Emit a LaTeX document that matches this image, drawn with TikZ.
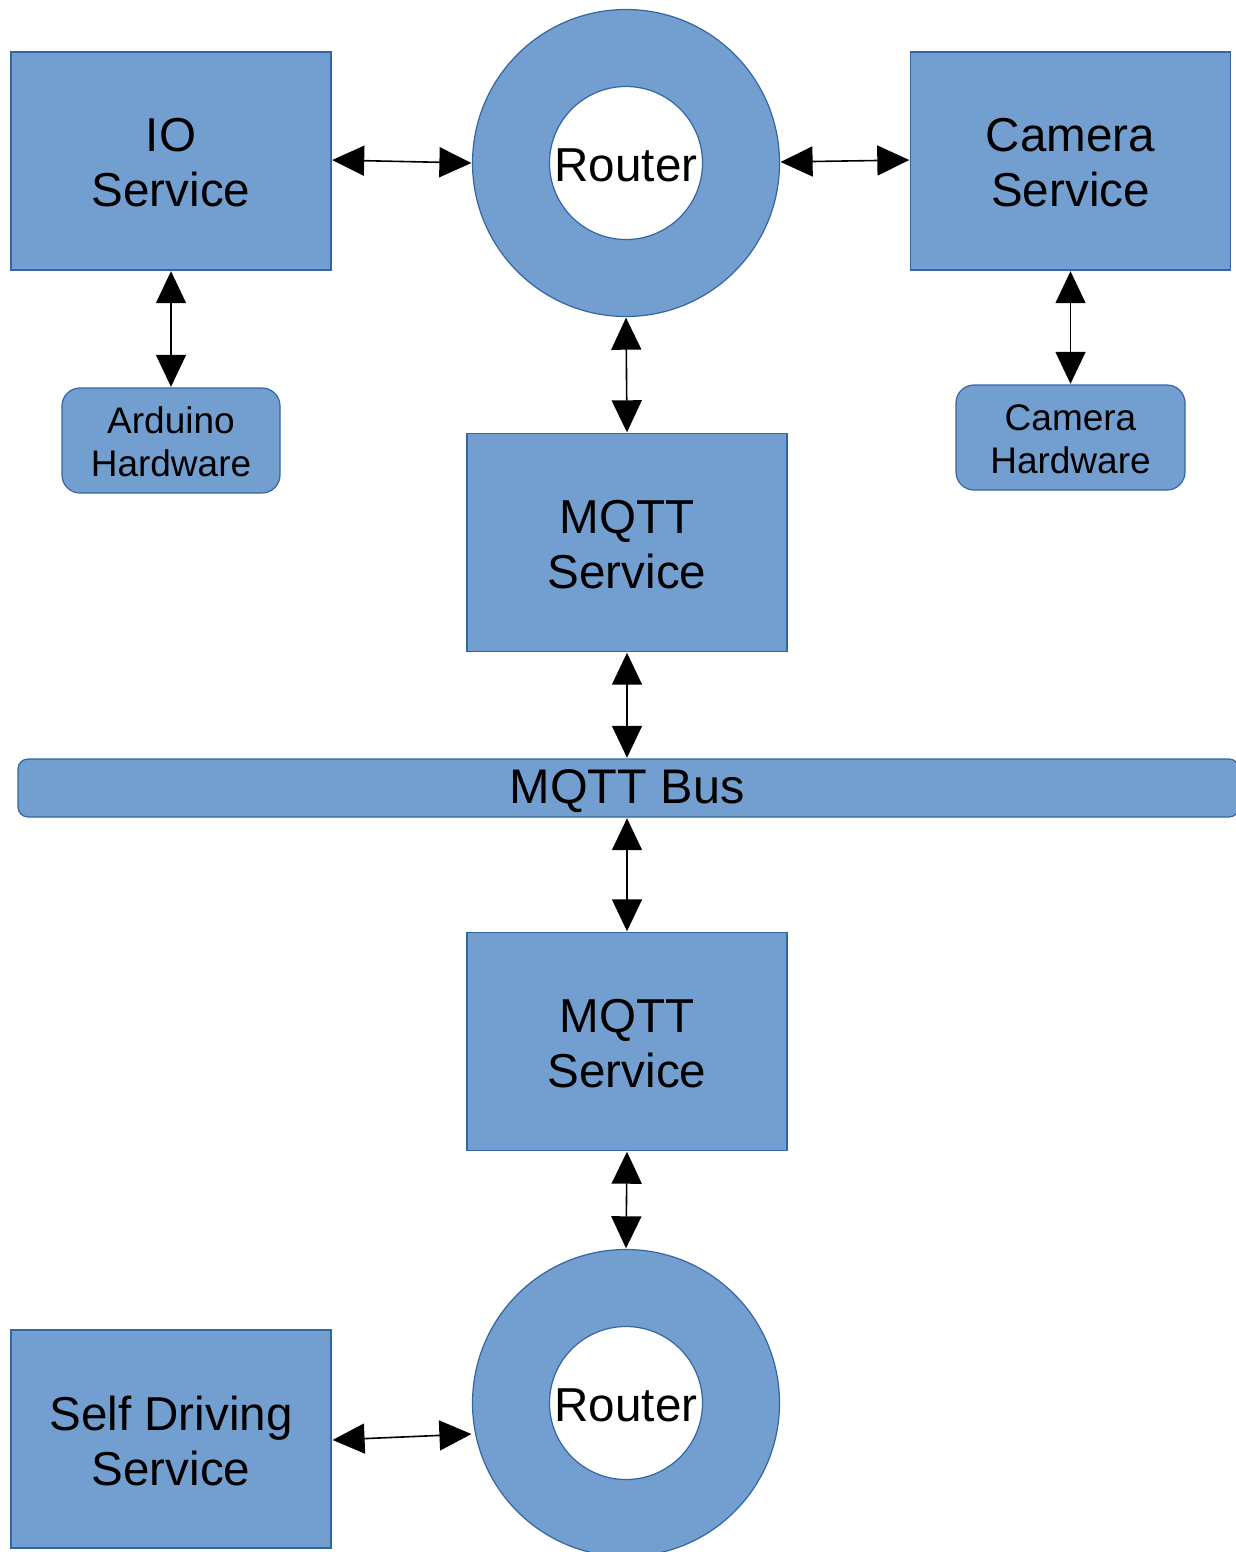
\documentclass[tikz,border=0pt]{standalone}
\usepackage{fontspec}
\setmainfont{Liberation Sans}
\usetikzlibrary{arrows.meta}
\definecolor{fillblue}{HTML}{729FCF}
\definecolor{edgeblue}{HTML}{3465A4}
\begin{document}
\begin{tikzpicture}[x=0.5pt,y=-0.5pt,
  box/.style={draw=edgeblue,fill=fillblue,line width=0.6pt,minimum width=160pt,minimum height=109pt,align=center,inner sep=0pt,font=\fontsize{23.8}{27.5}\selectfont},
  hw/.style={draw=edgeblue,fill=fillblue,line width=0.6pt,rounded corners=9pt,minimum height=52.5pt,align=center,inner sep=0pt,font=\fontsize{18.5}{21.5}\selectfont},
  ring/.style={circle,draw=edgeblue,fill=fillblue,line width=0.6pt,minimum size=153.5pt,inner sep=0pt},
  hole/.style={circle,draw=edgeblue,fill=white,line width=0.6pt,minimum size=76.5pt,inner sep=0pt},
  lbl/.style={align=center,inner sep=0pt,font=\fontsize{23.8}{27.5}\selectfont},
  link/.style={line width=0.8pt,{Triangle[length=16pt,width=15pt]}-{Triangle[length=16pt,width=15pt]},shorten <=0.3pt,shorten >=0.3pt}
]
\useasboundingbox (0,0) rectangle (1236,1552);
\node[box] (io) at (171,161) {};
\node[lbl] (iot) at (171,163) {IO\\Service};
\node[box] (cam) at (1070.5,161) {};
\node[lbl] (camt) at (1070.5,163) {Camera\\Service};
\node[ring] (r1) at (626,163) {};
\node[hole] (r1in) at (626,163) {};
\node[lbl] (r1t) at (626,165) {Router};
\node[hw,minimum width=109pt] (ard) at (171,440.5) {};
\node[hw,font=\fontsize{18.5}{21.5}\selectfont,draw=none,fill=none,minimum width=0pt,minimum height=0pt] (ardt) at (171,442) {Arduino\\Hardware};
\node[hw,minimum width=114.5pt] (camhw) at (1070.5,437.5) {};
\node[hw,draw=none,fill=none,minimum width=0pt,minimum height=0pt] (camhwt) at (1070.5,439) {Camera\\Hardware};
\node[box] (mq1) at (627,542.5) {};
\node[lbl] (mq1t) at (627,544.5) {MQTT\\Service};
\node[draw=edgeblue,fill=fillblue,line width=0.6pt,rounded corners=5pt,minimum width=610.5pt,minimum height=29pt,inner sep=0pt] (bus) at (628.5,788) {};
\node[lbl,font=\fontsize{24.3}{28}\selectfont] (buslabel) at (627,791.5) {MQTT Bus};
\node[box] (mq2) at (627,1041.5) {};
\node[lbl] (mq2t) at (627,1043.5) {MQTT\\Service};
\node[ring] (r2) at (626,1403) {};
\node[hole] (r2in) at (626,1403) {};
\node[lbl] (r2t) at (626,1405) {Router};
\node[box] (sd) at (171,1439) {};
\node[lbl] (sdt) at (171,1441) {Self Driving\\Service};

\coordinate (a1) at (332,160); \coordinate (b1) at (472,163);
\coordinate (a2) at (780,162); \coordinate (b2) at (910,160);
\draw[link] (io.east |- a1) -- (b1);
\draw[link] (a2) -- (cam.west |- b2);
\draw[link] (io.south) -- (ard.north);
\draw[link] (cam.south) -- (camhw.north);
\draw[link] (r1.south) -- (mq1.north);
\draw[link] (mq1.south) -- (mq1.south |- bus.north);
\draw[link] (mq2.north |- bus.south) -- (mq2.north);
\draw[link] (mq2.south) -- (r2.north);
\coordinate (a3) at (332,1440); \coordinate (b3) at (472,1434);
\draw[link] (a3) -- (b3);
\end{tikzpicture}
\end{document}
